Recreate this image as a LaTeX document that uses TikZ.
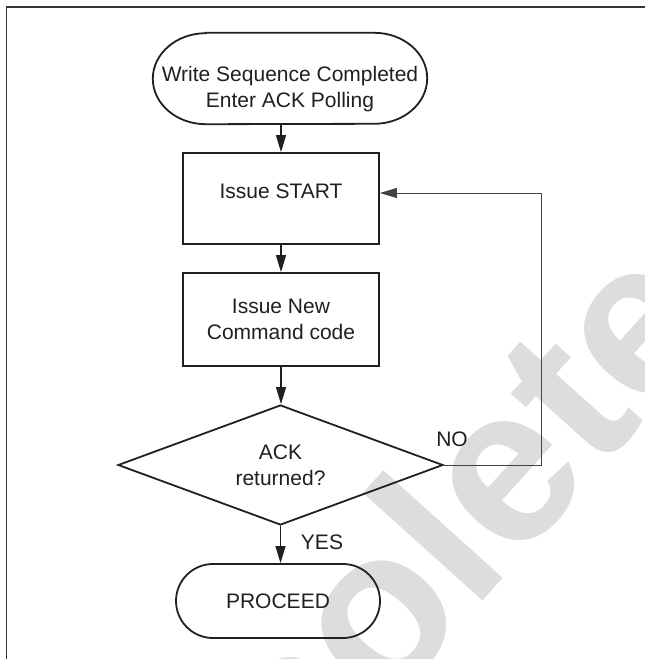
\documentclass[tikz,border=0pt]{standalone}
\usepackage{fontspec}
\setmainfont{Liberation Sans}
\usetikzlibrary{shapes.geometric,shapes.misc,arrows.meta,calc}
\definecolor{ink}{HTML}{231F20}
\definecolor{wm}{HTML}{DCDDDE}
\begin{document}
\begin{tikzpicture}[x=1pt,y=-1pt,
  every node/.style={font=\fontsize{21}{26}\selectfont, text=ink, inner sep=0pt},
  shapeline/.style={draw=ink, line width=1.8pt},
  box/.style={shapeline, rectangle, minimum width=196pt, align=center},
  decision/.style={shapeline, diamond, aspect=2.708, minimum width=325pt, minimum height=120pt, align=center},
  term/.style={shapeline, rounded rectangle, minimum width=204pt, minimum height=74pt},
  arr/.style={draw=ink, line width=1.1pt, -{Triangle[length=17pt,width=10pt]}},
  loopline/.style={draw=ink!85, line width=1pt, -{Triangle[length=17pt,width=10pt]}}
]
\useasboundingbox (0,0) rectangle (645,659);
\fill[white] (0,0) rectangle (645,659);
% watermark
\begin{scope}
\clip (0,0) rectangle (645,659);
\node[rotate=48, text=wm, font=\bfseries\fontsize{222}{222}\selectfont] (wmark) at (352,628) {Obsolete};
\end{scope}
% frame
\draw[draw=ink!90, line width=1.2pt] (6.5,659) -- (6.5,7) -- (645,7);
% start terminator
\node[rectangle, minimum width=274pt, minimum height=91pt] (start) at (290,78.5) {};
\draw[shapeline] ([xshift=53pt]start.north west) -- ([xshift=-53pt]start.north east)
  arc[start angle=90, end angle=-90, x radius=53pt, y radius=45.5pt]
  -- ([xshift=53pt]start.south west)
  arc[start angle=270, end angle=90, x radius=53pt, y radius=45.5pt] -- cycle;
\node[align=center] (starttxt) at (290,89.5) {Write Sequence Completed\\Enter ACK Polling};
% boxes
\node[box, minimum height=91pt] (box1) at (281,198.5) {};
\node (box1txt) at (281,191.5) {Issue START};
\node[box, minimum height=93pt] (box2) at (281,319.5) {Issue New\\Command code};
% decision
\node[decision] (dec) at (280.5,465) {ACK\\returned?};
% proceed
\node[term] (proc) at (278,601) {PROCEED};
% labels
\node (no) at (452,439.5) {NO};
\node (yes) at (322,542.5) {YES};
% connectors
\coordinate (loopc) at (541,193);
\draw[arr] (start.south -| box1.north) -- (box1.north);
\draw[arr] (box1.south) -- (box2.north);
\draw[arr] (box2.south) -- (box2.south |- dec.north);
\draw[arr] (dec.south) -- (dec.south |- proc.north);
\draw[loopline] (dec.east) -| (loopc) -- (loopc -| box1.east);
\end{tikzpicture}
\end{document}
